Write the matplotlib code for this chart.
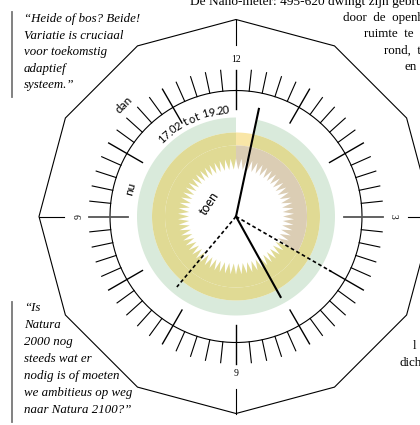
import matplotlib
matplotlib.use("Agg")
import matplotlib.pyplot as plt
import numpy as np
from matplotlib.patches import Polygon

# tijden op de klok
start_tijd = "17.02"
eind_tijd = "19.20"

# labels
uur_labels = ["12", "3", "9", "9"]   # bij 12, 3, 6 en 9 uur
woord_dan = "dan"
woord_nu = "nu"
woord_toen = "toen"

quote1 = ["\u201cHeide of bos? Beide!", "Variatie is cruciaal", "voor toekomstig",
          "adaptief", "systeem.\u201d"]
quote2 = ["\u201cIs", "Natura", "2000 nog", "steeds wat er", "nodig is of moeten",
          "we ambitieus op weg", "naar Natura 2100?\u201d"]
kop = "De Nano-meter: 495-620 dwingt zijn gebruiker"
rechts_boven = ["door  de  openheid", "ruimte  te  geven", "rond,  te  gaan", "en"]
rechts_onder = ["l", "dicht"]

# kleuren
groen = "#d9eadb"
olijf = "#e0da94"
lichtgeel = "#f9e6a7"
taupe = "#dbcdb4"

cx, cy = 236, 216.5


def pt(r, a):
    # a in graden, met de klok mee vanaf 12 uur (y naar beneden)
    t = np.radians(a)
    return cx + r * np.sin(t), cy - r * np.cos(t)


def ring(ax, r0, r1, a0, a1, kleur):
    aa = np.linspace(a0, a1, 200)
    buiten = [pt(r1, a) for a in aa]
    binnen = [pt(r0, a) for a in aa[::-1]]
    ax.add_patch(Polygon(buiten + binnen, closed=True, fc=kleur, ec="none"))


def hoeken(tijd):
    h, m = [int(v) for v in tijd.split(".")]
    uur = ((h % 12) + m / 60) * 30
    minuut = m * 6
    return uur, minuut


fig = plt.figure(figsize=(4.2, 4.25), dpi=100)
ax = fig.add_axes([0, 0, 1, 1])
ax.set_xlim(0, 420)
ax.set_ylim(425, 0)
ax.axis("off")

su, sm = hoeken(start_tijd)
eu, em = hoeken(eind_tijd)

# ringen
ring(ax, 84, 99, sm, 360, groen)
ring(ax, 71, 84, 0, sm, lichtgeel)
ring(ax, 71, 84, sm, 360, olijf)
ring(ax, 0, 71, 0, em, taupe)
ring(ax, 0, 71, em, 360, olijf)

# witte ster
n = 66
ster = []
for i in range(2 * n):
    r = 58 if i % 2 == 0 else 47
    ster.append(pt(r, i * 180 / n))
ax.add_patch(Polygon(ster, closed=True, fc="white", ec="none"))

# twaalfhoek
veel = [pt(197, a) for a in range(0, 360, 30)]
ax.add_patch(Polygon(veel, closed=True, fill=False, ec="black", lw=0.8))
for a in (0, 90, 180, 270):
    x0, y0 = pt(197, a)
    x1, y1 = pt(172, a)
    ax.plot([x0, x1], [y0, y1], color="black", lw=0.8)

# wijzerplaat
aa = np.linspace(0, 360, 400)
xs, ys = zip(*[pt(126, a) for a in aa])
ax.plot(xs, ys, color="black", lw=0.8)
for i in range(60):
    a = i * 6
    if i % 5 == 0:
        kl = "#555555" if i in (15, 45) else "black"
        x0, y0 = pt(108, a)
        x1, y1 = pt(147, a)
        ax.plot([x0, x1], [y0, y1], color=kl, lw=1.0 if kl == "black" else 1.3)
    else:
        x0, y0 = pt(126, a)
        x1, y1 = pt(147, a)
        ax.plot([x0, x1], [y0, y1], color="black", lw=0.8)

for lab, a in zip(uur_labels, (0, 90, 180, 270)):
    x, y = pt(157, a)
    ax.text(x, y, lab, family="Liberation Serif", fontsize=7, ha="center",
            va="center", rotation=-a if a in (90, 270) else 0)

# wijzers
for (u, m, stijl) in ((su, sm, "-"), (eu, em, (0, (2.2, 1.6)))):
    x0, y0 = pt(0, 0)
    xu, yu = pt(92, u)
    xm, ym = pt(110, m)
    ax.plot([x0, xu], [y0, yu], color="black", lw=1.5 if stijl == "-" else 1.2, ls=stijl)
    ax.plot([x0, xm], [y0, ym], color="black", lw=1.5 if stijl == "-" else 1.2, ls=stijl)

# woorden
x, y = pt(158, -45)
ax.text(x, y, woord_dan, family="Lato", fontsize=8.5, rotation=45, ha="center", va="center")
x, y = pt(109, -75)
ax.text(x, y, woord_nu, family="Lato", fontsize=8.5, rotation=75, ha="center", va="center")
x, y = pt(30, -64)
ax.text(x, y, woord_toen, family="Lato", fontsize=9, rotation=57, ha="center", va="center")

# gebogen tekst
boog = start_tijd + " tot " + eind_tijd
breed = {".": 0.25, " ": 0.3}
w = np.array([breed.get(c, 0.56) for c in boog])
tot = w.sum()
pos = np.cumsum(w) - w / 2
a0, a1 = -45, -4
for c, p in zip(boog, pos):
    a = a0 + (a1 - a0) * p / tot
    x, y = pt(107, a)
    ax.text(x, y, c, family="Lato", fontsize=8, rotation=-a, ha="center", va="center",
            rotation_mode="anchor")

# citaten links
ax.plot([12, 12], [12, 97], color="#777777", lw=1.3)
for i, regel in enumerate(quote1):
    ax.text(24, 19 + i * 16.6, regel, family="Liberation Serif", style="italic",
            fontsize=9.3, va="center", ha="left")
ax.plot([12, 12], [302, 422], color="#777777", lw=1.3)
for i, regel in enumerate(quote2):
    ax.text(24, 308 + i * 17, regel, family="Liberation Serif", style="italic",
            fontsize=9.3, va="center", ha="left")

# tekst rechts
ax.text(190, 2, kop, family="Liberation Serif", fontsize=9.6, va="center", ha="left")
for i, regel in enumerate(rechts_boven):
    ax.text(343 + i * 20.5, 18 + i * 16.3, regel, family="Liberation Serif",
            fontsize=9.4, va="center", ha="left")
ax.text(413, 346, rechts_onder[0], family="Liberation Serif", fontsize=9.4, va="center", ha="left")
ax.text(400, 363, rechts_onder[1], family="Liberation Serif", fontsize=9.4, va="center", ha="left")

fig.savefig("out.png", dpi=100)
